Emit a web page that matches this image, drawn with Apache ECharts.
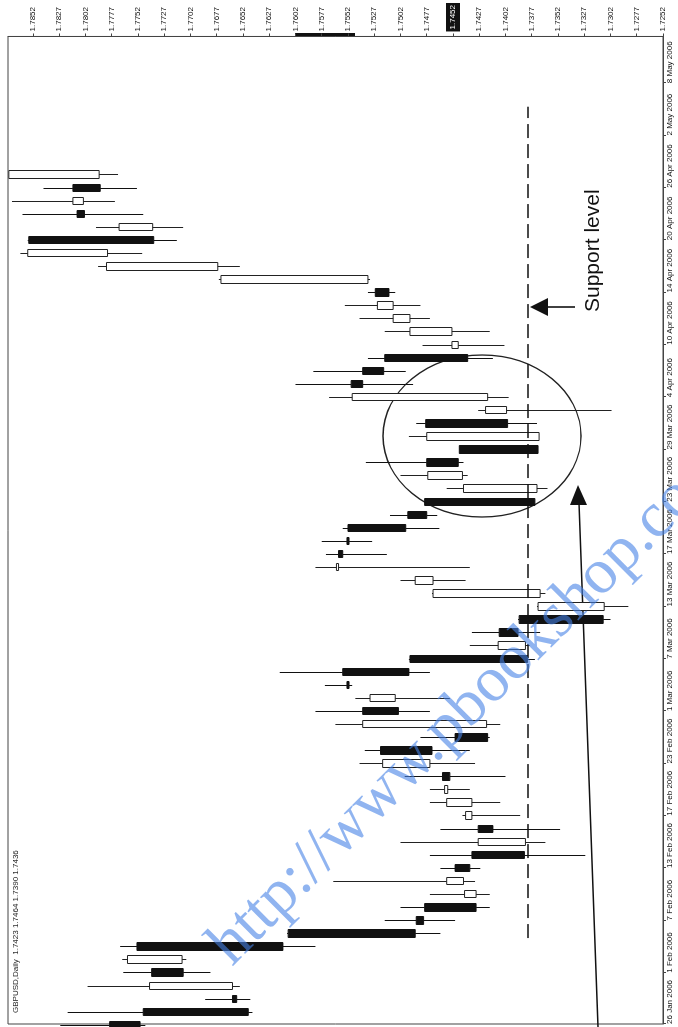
<!DOCTYPE html>
<html><head><meta charset="utf-8">
<script src="https://cdn.jsdelivr.net/npm/echarts@6/dist/echarts.min.js"></script>
<style>
html,body{margin:0;padding:0;background:#fff;overflow:hidden;width:678px;height:1027px;}
#wrap{position:absolute;left:0;top:0;width:1027px;height:678px;transform-origin:0 0;transform:translate(0,1027px) rotate(-90deg);}
</style></head><body>
<div id="wrap"></div>
<script>
// Trading days shown (GBPUSD, Daily)
const dates = ['26 Jan','27 Jan','30 Jan','31 Jan','1 Feb','2 Feb','3 Feb','6 Feb','7 Feb','8 Feb','9 Feb','10 Feb','13 Feb','14 Feb','15 Feb','16 Feb','17 Feb','20 Feb','21 Feb','22 Feb','23 Feb','24 Feb','27 Feb','28 Feb','1 Mar','2 Mar','3 Mar','6 Mar','7 Mar','8 Mar','9 Mar','10 Mar','13 Mar','14 Mar','15 Mar','16 Mar','17 Mar','20 Mar','21 Mar','22 Mar','23 Mar','24 Mar','27 Mar','28 Mar','29 Mar','30 Mar','31 Mar','3 Apr','4 Apr','5 Apr','6 Apr','7 Apr','10 Apr','11 Apr','12 Apr','13 Apr','14 Apr','17 Apr','18 Apr','19 Apr','20 Apr','21 Apr','24 Apr','25 Apr','26 Apr','27 Apr'];
const opens  = [1.7779,1.7747,1.7662,1.7662,1.7739,1.7710,1.7753,1.7609,1.7487,1.7479,1.7430,1.7442,1.7450,1.7434,1.7383,1.7428,1.7434,1.7434,1.7457,1.7462,1.7474,1.7521,1.7450,1.7420,1.7538,1.7507,1.7553,1.7557,1.7493,1.7383,1.7408,1.7389,1.7308,1.7369,1.7471,1.7561,1.7561,1.7553,1.7552,1.7495,1.7479,1.7372,1.7443,1.7477,1.7446,1.7370,1.7478,1.7401,1.7419,1.7549,1.7538,1.7517,1.7447,1.7453,1.7493,1.7509,1.7526,1.7533,1.7676,1.7781,1.7856,1.7738,1.7810,1.7804,1.7814,1.7789];
const closes = [1.7750,1.7647,1.7658,1.7741,1.7709,1.7762,1.7614,1.7488,1.7480,1.7430,1.7441,1.7458,1.7436,1.7384,1.7428,1.7414,1.7440,1.7458,1.7460,1.7455,1.7519,1.7472,1.7419,1.7538,1.7504,1.7531,1.7551,1.7494,1.7381,1.7409,1.7390,1.7309,1.7371,1.7471,1.7488,1.7563,1.7557,1.7551,1.7497,1.7477,1.7374,1.7442,1.7476,1.7447,1.7371,1.7477,1.7400,1.7421,1.7548,1.7538,1.7518,1.7438,1.7453,1.7493,1.7509,1.7524,1.7513,1.7673,1.7782,1.7857,1.7737,1.7770,1.7803,1.7814,1.7788,1.7875];
const lows   = [1.7745,1.7643,1.7645,1.7655,1.7683,1.7706,1.7583,1.7464,1.7450,1.7417,1.7417,1.7431,1.7426,1.7326,1.7364,1.7350,1.7388,1.7407,1.7436,1.7402,1.7431,1.7436,1.7417,1.7407,1.7474,1.7455,1.7548,1.7474,1.7374,1.7379,1.7369,1.7302,1.7285,1.7364,1.7440,1.7436,1.7515,1.7529,1.7465,1.7467,1.7374,1.7362,1.7438,1.7442,1.7371,1.7370,1.7372,1.7301,1.7399,1.7490,1.7497,1.7414,1.7403,1.7417,1.7474,1.7483,1.7507,1.7531,1.7655,1.7748,1.7715,1.7709,1.7747,1.7774,1.7753,1.7771];
const highs  = [1.7826,1.7819,1.7688,1.7800,1.7766,1.7767,1.7769,1.7610,1.7517,1.7502,1.7474,1.7566,1.7464,1.7474,1.7502,1.7464,1.7443,1.7474,1.7474,1.7498,1.7541,1.7536,1.7483,1.7564,1.7583,1.7545,1.7574,1.7617,1.7494,1.7436,1.7434,1.7390,1.7372,1.7472,1.7502,1.7583,1.7573,1.7577,1.7557,1.7512,1.7479,1.7458,1.7502,1.7535,1.7446,1.7494,1.7487,1.7428,1.7570,1.7602,1.7585,1.7533,1.7481,1.7517,1.7541,1.7555,1.7533,1.7675,1.7790,1.7864,1.7857,1.7792,1.7862,1.7872,1.7842,1.7875];
const priceTicks = [1.7852,1.7827,1.7802,1.7777,1.7752,1.7727,1.7702,1.7677,1.7652,1.7627,1.7602,1.7577,1.7552,1.7527,1.7502,1.7477,1.7452,1.7427,1.7402,1.7377,1.7352,1.7327,1.7302,1.7277,1.7252];
const dateLabels = ['26 Jan 2006','1 Feb 2006','7 Feb 2006','13 Feb 2006','17 Feb 2006','23 Feb 2006','1 Mar 2006','7 Mar 2006','13 Mar 2006','17 Mar 2006','23 Mar 2006','29 Mar 2006','4 Apr 2006','10 Apr 2006','14 Apr 2006','20 Apr 2006','26 Apr 2006','2 May 2006','8 May 2006'];
const currentPrice = 1.7452;
const supportLevel = 1.7381;
const supportFrom = 6.65, supportTo = 70.2;
const headerText = 'GBPUSD,Daily  1.7423 1.7464 1.7390 1.7436';

const xMin = 0.08, xMax = 75.57;
const yMin = 1.7252, yMax = 1.78758;
const labelStep = 4;
const dateTickVals = dateLabels.map((d, k) => k === 0 ? xMin + 0.001 : k * labelStep);

const candleData = opens.map((o, i) => [i, o, closes[i], lows[i], highs[i]]);

const chart = echarts.init(document.getElementById('wrap'), null, {width: 1027, height: 678});
const font = '"Liberation Sans", Arial, sans-serif';
chart.setOption({
  animation: false,
  backgroundColor: '#fff',
  grid: {left: 3, right: 35, top: 8, bottom: 15, show: true, borderColor: '#444', borderWidth: 1},
  xAxis: {
    type: 'value', min: xMin, max: xMax, position: 'bottom',
    axisLine: {show: true, onZero: false, lineStyle: {color: '#444', width: 1}},
    axisTick: {show: true, customValues: dateTickVals, length: 3, lineStyle: {color: '#444'}},
    axisLabel: {
      customValues: dateTickVals, hideOverlap: false, showMinLabel: true, showMaxLabel: true,
      align: 'left', margin: 3, fontSize: 8, fontFamily: font, color: '#111',
      formatter: v => { const k = v < 1 ? 0 : Math.round(v / labelStep); return dateLabels[k] || ''; }
    },
    splitLine: {show: false}
  },
  yAxis: {
    type: 'value', min: yMin, max: yMax, position: 'right',
    axisLine: {show: true, onZero: false, lineStyle: {color: '#444', width: 1}},
    axisTick: {show: true, customValues: priceTicks, length: 3, lineStyle: {color: '#444'}},
    axisLabel: {
      customValues: priceTicks, hideOverlap: false, showMinLabel: true, showMaxLabel: true, margin: 5,
      fontSize: 8, fontFamily: font, color: '#111',
      formatter: v => Math.abs(v - currentPrice) < 1e-6 ? '{hl|' + v.toFixed(4) + '}' : v.toFixed(4),
      rich: {hl: {backgroundColor: '#111', color: '#fff', fontSize: 8, fontFamily: font, padding: [3, 2]}}
    },
    splitLine: {show: false}
  },
  series: [{
    type: 'candlestick',
    data: candleData,
    barWidth: 8,
    clip: true,
    itemStyle: {color: '#fff', color0: '#111', borderColor: '#222', borderColor0: '#111', borderWidth: 1},
    markLine: {
      silent: true, symbol: 'none', label: {show: false},
      lineStyle: {color: '#111', width: 1.6, type: [14, 6]},
      data: [[{coord: [supportFrom, supportLevel]}, {coord: [supportTo, supportLevel]}]]
    }
  }],
  graphic: [
    {type: 'text', x: 14, y: 12, style: {text: headerText, fontSize: 8, fontFamily: font, fill: '#222', verticalAlign: 'top'}},
    {type: 'rect', shape: {x: 991, y: 295, width: 3, height: 60}, style: {fill: '#111'}},
    {type: 'ellipse', shape: {cx: 591, cy: 482, rx: 81, ry: 99}, style: {fill: 'none', stroke: '#222', lineWidth: 1.3}},
    {type: 'text', x: 715, y: 583, style: {text: 'Support level', fontSize: 21, fontFamily: font, fill: '#111', verticalAlign: 'top'}},
    {type: 'line', shape: {x1: 720, y1: 546, x2: 720, y2: 575}, style: {stroke: '#111', lineWidth: 1.6}},
    {type: 'polygon', shape: {points: [[720, 530], [711, 548], [729, 548]]}, style: {fill: '#111'}},
    {type: 'line', shape: {x1: 0, y1: 598, x2: 524, y2: 579}, style: {stroke: '#111', lineWidth: 1.6}},
    {type: 'polygon', shape: {points: [[542, 578], [522, 570], [522, 587]]}, style: {fill: '#111'}},
    {type: 'text', x: 72, y: 220, rotation: -Math.PI / 4, z: 100,
     style: {text: 'http://www.pbookshop.com', fontSize: 64, fontFamily: '"Liberation Serif", serif', fill: 'rgba(70,130,230,0.6)', verticalAlign: 'middle', align: 'left'}}
  ]
});
</script>
</body></html>
